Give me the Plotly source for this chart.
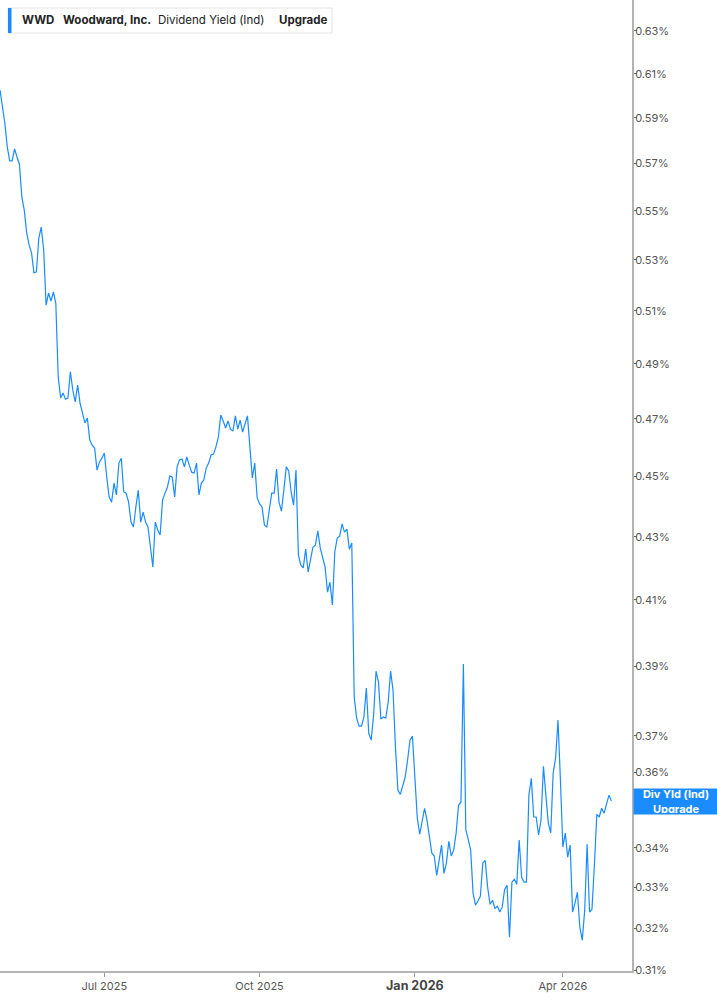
import math
import pandas as pd
import plotly.graph_objects as go

# ---- data (dividend yield, %), one value per trading day ----
seg_a = [0.6025, 0.5949, 0.5877, 0.5772, 0.5711, 0.5711, 0.5763, 0.5728, 0.5698, 0.5558,
         0.5503, 0.5409, 0.5360, 0.5328, 0.5248, 0.5252, 0.5388, 0.5433, 0.5340, 0.5122,
         0.5169, 0.5138, 0.5173, 0.5130, 0.4851, 0.4775, 0.4793, 0.4771, 0.4775, 0.4870,
         0.4804, 0.4761, 0.4822, 0.4757]
seg_b = [0.4725, 0.4686, 0.4703, 0.4626, 0.4608, 0.4598, 0.4522, 0.4550, 0.4563, 0.4581,
         0.4498, 0.4431, 0.4414, 0.4478, 0.4438, 0.4546, 0.4563, 0.4448, 0.4444, 0.4414,
         0.4348, 0.4332, 0.4398, 0.4454, 0.4348, 0.4381, 0.4348, 0.4332, 0.4267, 0.4203,
         0.4348, 0.4322, 0.4306]
seg_c = [0.4421, 0.4444, 0.4464, 0.4502, 0.4498, 0.4431, 0.4533, 0.4557, 0.4560, 0.4533,
         0.4567, 0.4539, 0.4515, 0.4512, 0.4546, 0.4438, 0.4478, 0.4488, 0.4529, 0.4546,
         0.4574, 0.4577, 0.4602, 0.4636, 0.4714, 0.4693, 0.4668, 0.4693, 0.4664, 0.4657,
         0.4711, 0.4664, 0.4696, 0.4654, 0.4682, 0.4711, 0.4602, 0.4495, 0.4546, 0.4428,
         0.4408, 0.4398, 0.4338]
seg_d = [0.4332, 0.4388, 0.4444, 0.4444, 0.4526, 0.4414, 0.4384, 0.4454, 0.4533, 0.4519,
         0.4448, 0.4404, 0.4522, 0.4241, 0.4209, 0.4200, 0.4260, 0.4187, 0.4225, 0.4267,
         0.4273, 0.4319, 0.4264, 0.4235, 0.4203, 0.4124, 0.4155, 0.4084, 0.4251, 0.4296,
         0.4302, 0.4342, 0.4315, 0.4325, 0.4260, 0.4280]
seg_e = [0.3810, 0.3750, 0.3727, 0.3727, 0.3753, 0.3836, 0.3707, 0.3688, 0.3758, 0.3885,
         0.3853, 0.3747, 0.3753, 0.3750, 0.3795, 0.3885, 0.3830, 0.3668, 0.3551, 0.3540,
         0.3565, 0.3586, 0.3633, 0.3688, 0.3699, 0.3570, 0.3477, 0.3435, 0.3472, 0.3503,
         0.3472, 0.3427, 0.3386, 0.3379, 0.3330, 0.3368, 0.3407, 0.3335, 0.3361, 0.3417,
         0.3379, 0.3394, 0.3438, 0.3511]
seg_f = [0.3519, 0.3906, 0.3446, 0.3422, 0.3394, 0.3285, 0.3256, 0.3266, 0.3278, 0.3361,
         0.3368, 0.3300, 0.3258, 0.3268, 0.3248, 0.3253, 0.3239, 0.3251, 0.3295, 0.3305,
         0.3178, 0.3313, 0.3320, 0.3308, 0.3420, 0.3325, 0.3313, 0.3313, 0.3538, 0.3583,
         0.3480, 0.3480, 0.3433, 0.3472, 0.3616, 0.3538, 0.3464, 0.3438, 0.3597, 0.3638]
seg_g = [0.3744, 0.3578, 0.3402, 0.3438, 0.3376, 0.3407, 0.3239, 0.3261, 0.3288, 0.3202,
         0.3171, 0.3243, 0.3409, 0.3239, 0.3246, 0.3356, 0.3487, 0.3480, 0.3503, 0.3490,
         0.3517, 0.3538, 0.3522]
yield_values = seg_a + seg_b + seg_c + seg_d + seg_e + seg_f + seg_g

market_holidays = ["2025-05-26", "2025-06-19", "2025-07-04", "2025-09-01", "2025-11-27",
                   "2025-12-25", "2026-01-01", "2026-01-19", "2026-02-16", "2026-04-03"]
start_date = "2025-04-29"
dates = pd.bdate_range(start=start_date, periods=len(yield_values), freq="C",
                       holidays=market_holidays)

x_tick_vals = ["2025-07-01", "2025-10-01", "2026-01-02", "2026-04-01"]
x_tick_text = ["Jul 2025", "Oct 2025",
               "<b><span style='font-size:12.5px;color:#444'>Jan 2026</span></b>", "Apr 2026"]
y_tick_vals = [0.31, 0.32, 0.33, 0.34, 0.35, 0.36, 0.37, 0.39, 0.41, 0.43, 0.45, 0.47,
               0.49, 0.51, 0.53, 0.55, 0.57, 0.59, 0.61, 0.63]
y_tick_text = [f"{v:.2f}%" for v in y_tick_vals]

LINE = "#1a8cff"
FONT = "Inter, Roboto, sans-serif"
W, H = 717, 1005
ML, MR, MT, MB = 0, 85, 0, 34
PW, PH = W - ML - MR, H - MT - MB

fig = go.Figure()
fig.add_trace(go.Scatter(x=dates, y=yield_values, mode="lines",
                         line=dict(color=LINE, width=1.2), hoverinfo="skip",
                         showlegend=False))

fig.update_layout(
    width=W, height=H, margin=dict(l=ML, r=MR, t=MT, b=MB),
    paper_bgcolor="white", plot_bgcolor="white",
    font=dict(family=FONT, color="#555", size=11),
    xaxis=dict(
        type="date", range=["2025-04-29", "2026-05-12 12:00"],
        rangebreaks=[dict(bounds=["sat", "mon"]), dict(values=market_holidays)],
        tickvals=x_tick_vals, ticktext=x_tick_text,
        ticks="outside", ticklen=4, tickcolor="#999", tickwidth=1,
        showline=True, linecolor="#b3b3b3", linewidth=2,
        showgrid=False, zeroline=False,
        tickfont=dict(family=FONT, size=11, color="#555"),
    ),
    yaxis=dict(
        type="log", side="right",
        range=[math.log10(0.3098), math.log10(0.6449)],
        tickvals=y_tick_vals, ticktext=y_tick_text,
        ticks="outside", ticklen=3, tickcolor="#666", tickwidth=1,
        ticklabelstandoff=-4,
        showline=True, linecolor="#b3b3b3", linewidth=2,
        showgrid=False, zeroline=False,
        tickfont=dict(family=FONT, size=11, color="#555"),
    ),
)

# last-value label
last_v = yield_values[-1]
fig.add_annotation(
    x=1, xref="paper", xanchor="left", xshift=1,
    y=math.log10(last_v), yref="y", yanchor="middle",
    text="<b>Div Yld (Ind)<br>Upgrade</b>", showarrow=False,
    font=dict(family=FONT, size=11, color="white"),
    bgcolor=LINE, width=82, height=23, align="center", borderpad=1,
)

# header box
def px_x(p):
    return p / PW

def px_y(p):
    return 1 - p / PH

fig.add_shape(type="rect", xref="paper", yref="paper",
              x0=px_x(8), x1=px_x(332), y0=px_y(33), y1=px_y(8),
              line=dict(color="#e4e4e4", width=1), fillcolor="white", layer="above")
fig.add_shape(type="rect", xref="paper", yref="paper",
              x0=px_x(8), x1=px_x(11.5), y0=px_y(33), y1=px_y(8),
              line=dict(width=0), fillcolor=LINE, layer="above")

header_parts = [("<b>WWD</b>", 19.5), ("<b>Woodward, Inc.</b>", 60.5),
                ("Dividend Yield (Ind)", 155.5), ("<b>Upgrade</b>", 276.5)]
for txt, xp in header_parts:
    fig.add_annotation(x=px_x(xp), xref="paper", xanchor="left",
                       y=px_y(20.5), yref="paper", yanchor="middle",
                       text=txt, showarrow=False,
                       font=dict(family=FONT, size=11.5, color="#222"))

fig.write_html("out.html",
               config={"displayModeBar": False},
               post_script="document.body.style.margin='0';document.body.style.padding='0';")
